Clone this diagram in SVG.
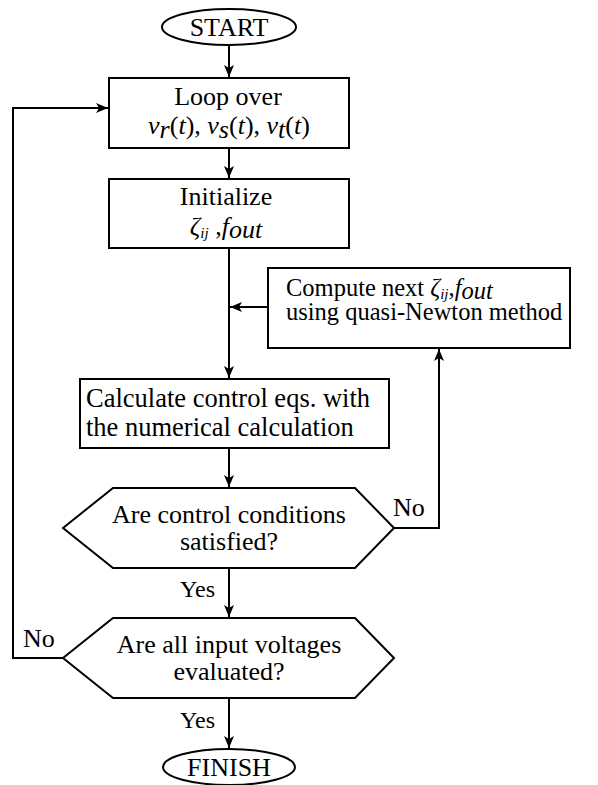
<svg xmlns="http://www.w3.org/2000/svg" width="598" height="785" viewBox="0 0 598 785">
  <style>
    .shape { fill: #fff; stroke: #000; stroke-width: 2; }
    .wire { fill: none; stroke: #000; stroke-width: 2; }
    .t { font-family: "Liberation Serif", "Times New Roman", serif; font-size: 26px; fill: #000; }
    .small { font-size: 24.5px; }
    .wide { font-size: 26.5px; }
    .lbl { font-size: 24px; }
    .mid { text-anchor: middle; }
    .it { font-style: italic; }
    .sub { font-size: 15px; font-style: italic; }
  </style>
  <defs>
    <marker id="arrow" viewBox="0 0 12 10" refX="12" refY="5" markerWidth="12" markerHeight="10" markerUnits="userSpaceOnUse" orient="auto">
      <path d="M0,0 L12,5 L0,10 L3,5 Z" fill="#000"/>
    </marker>
  </defs>

  <rect width="598" height="785" fill="#fff"/>

  <!-- connectors and their branch labels -->
  <g id="connectors">
    <path class="wire" d="M229,45 V77" marker-end="url(#arrow)"/>
    <path class="wire" d="M229,148 V178" marker-end="url(#arrow)"/>
    <path class="wire" d="M229,248 V378" marker-end="url(#arrow)"/>
    <path class="wire" d="M268,307 H230" marker-end="url(#arrow)"/>
    <path class="wire" d="M229,448 V487" marker-end="url(#arrow)"/>
    <path class="wire" d="M394,528 H439 V349" marker-end="url(#arrow)"/>
    <path class="wire" d="M229,568 V617" marker-end="url(#arrow)"/>
    <path class="wire" d="M63,658 H13 V108 H108" marker-end="url(#arrow)"/>
    <path class="wire" d="M229,698 V748" marker-end="url(#arrow)"/>
    <text class="t lbl" x="215" y="597" text-anchor="end">Yes</text>
    <text class="t lbl" x="215" y="728" text-anchor="end">Yes</text>
    <text class="t" x="393" y="516">No</text>
    <text class="t" x="23" y="647">No</text>
  </g>

  <g id="start">
    <ellipse class="shape" cx="229" cy="27" rx="67" ry="18"/>
    <text class="t mid" x="229" y="36">START</text>
  </g>

  <g id="loop">
    <rect class="shape" x="109" y="78" width="240" height="70"/>
    <text class="t mid" x="228" y="105">Loop over</text>
    <text class="t mid" x="229" y="134"><tspan class="it">v</tspan><tspan class="it" dy="4">r</tspan><tspan dy="-4">(</tspan><tspan class="it">t</tspan>), <tspan class="it">v</tspan><tspan class="it" dy="4">s</tspan><tspan dy="-4">(</tspan><tspan class="it">t</tspan>), <tspan class="it">v</tspan><tspan class="it" dy="4">t</tspan><tspan dy="-4">(</tspan><tspan class="it">t</tspan>)</text>
  </g>

  <g id="initialize">
    <rect class="shape" x="109" y="179" width="240" height="69"/>
    <text class="t mid" x="226" y="205">Initialize</text>
    <text class="t mid" x="226" y="235"><tspan class="it">ζ</tspan><tspan class="sub" dy="3">ij</tspan><tspan dy="-3"> ,</tspan><tspan class="it">f</tspan><tspan class="it" dy="3">out</tspan></text>
  </g>

  <g id="compute">
    <rect class="shape" x="268" y="268" width="302" height="80"/>
    <text class="t small" x="286" y="296">Compute next <tspan class="it">ζ</tspan><tspan class="sub" dy="3">ij</tspan><tspan dy="-3">,</tspan><tspan class="it">f</tspan><tspan class="it" dy="3">out</tspan></text>
    <text class="t small" x="286" y="320">using quasi-Newton method</text>
  </g>

  <g id="calculate">
    <rect class="shape" x="80" y="379" width="309" height="69"/>
    <text class="t wide" x="86" y="407">Calculate control eqs. with</text>
    <text class="t wide" x="86" y="436">the numerical calculation</text>
  </g>

  <g id="decision-conditions">
    <polygon class="shape" points="63,528 113,488 355,488 394,528 355,568 113,568"/>
    <text class="t mid" x="229" y="523">Are control conditions</text>
    <text class="t mid" x="229" y="550">satisfied?</text>
  </g>

  <g id="decision-inputs">
    <polygon class="shape" points="63,658 113,618 355,618 394,658 355,698 113,698"/>
    <text class="t mid" x="229" y="653">Are all input voltages</text>
    <text class="t mid" x="229" y="680">evaluated?</text>
  </g>

  <g id="finish">
    <ellipse class="shape" cx="229" cy="767" rx="66" ry="18"/>
    <text class="t mid" x="229" y="776">FINISH</text>
  </g>
</svg>
